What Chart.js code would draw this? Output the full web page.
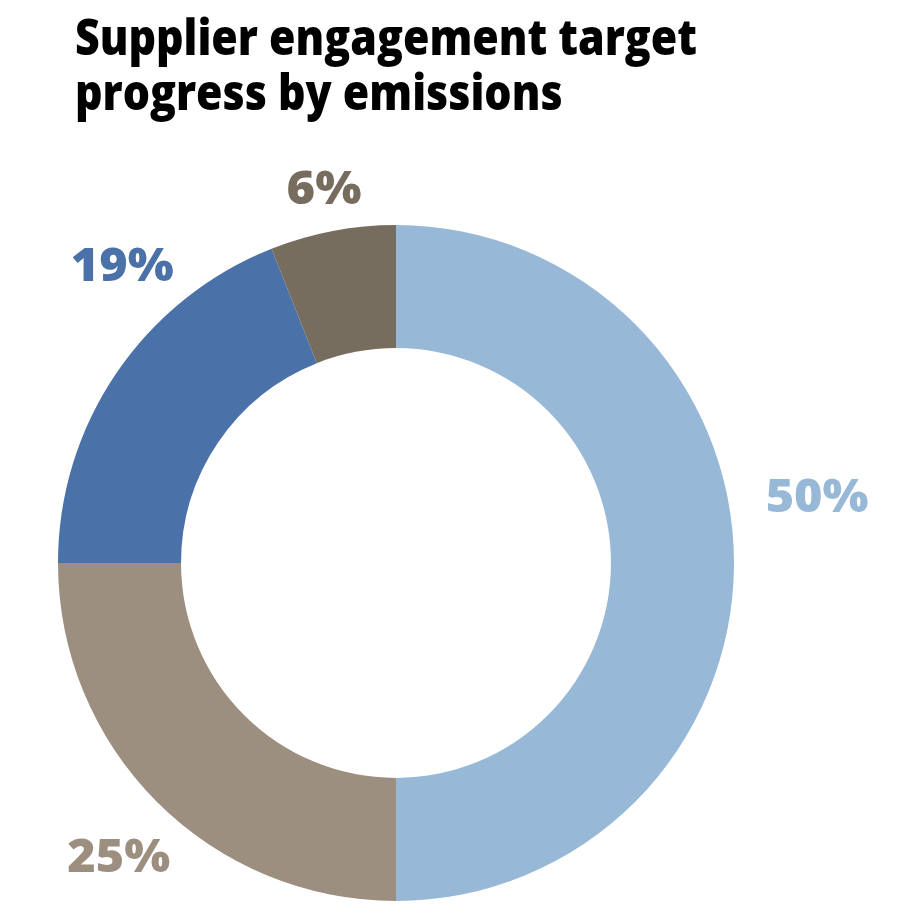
<!DOCTYPE html>
<html>
<head>
<meta charset="utf-8">
<script src="https://cdn.jsdelivr.net/npm/chart.js@4/dist/chart.umd.min.js"></script>
<style>
html,body{margin:0;padding:0;background:#fff;}
#wrap{width:912px;height:917px;position:relative;}
</style>
</head>
<body>
<div id="wrap"><canvas id="c" width="912" height="917"></canvas></div>
<script>
const titleLines = ["Supplier engagement target", "progress by emissions"];
const categories = ["Category A", "Category B", "Category C", "Category D"];
const values = [50, 25, 19, 6];
const valueLabels = ["50%", "25%", "19%", "6%"];
const colors = ["#97B8D7", "#9C8F7F", "#4A71A8", "#776D5F"];

// label placement relative to the doughnut centre, as fractions of the outer radius
const labelOffsets = [[1.246, -0.195], [-0.82, 0.87], [-0.81, -0.88], [-0.213, -1.107]];

const FONT = "'Open Sans', 'DejaVu Sans', sans-serif";

const titlePlugin = {
  id: 'customTitle',
  afterDraw(chart) {
    const ctx = chart.ctx;
    ctx.save();
    ctx.fillStyle = '#000';
    ctx.textBaseline = 'alphabetic';
    ctx.textAlign = 'left';
    ctx.font = '800 49px ' + FONT;
    const w0 = ctx.measureText(titleLines[0]).width;
    const sx = 622 / w0;
    const baselines = [55, 110];
    titleLines.forEach((t, i) => {
      ctx.save();
      ctx.translate(75, baselines[i]);
      ctx.scale(sx, 1);
      ctx.fillText(t, 0, 0);
      ctx.restore();
    });
    ctx.restore();
  }
};

const labelPlugin = {
  id: 'valueLabels',
  afterDatasetsDraw(chart) {
    const meta = chart.getDatasetMeta(0);
    const ctx = chart.ctx;
    ctx.save();
    ctx.font = '800 46px ' + FONT;
    ctx.textAlign = 'center';
    ctx.textBaseline = 'middle';
    meta.data.forEach((arc, i) => {
      const r = arc.outerRadius;
      const x = arc.x + labelOffsets[i][0] * r;
      const y = arc.y + labelOffsets[i][1] * r;
      ctx.fillStyle = colors[i];
      const w = ctx.measureText(valueLabels[i]).width;
      const target = valueLabels[i].length === 3 ? 103 : 75;
      ctx.save();
      ctx.translate(x, y);
      ctx.scale(target / w, 1);
      ctx.fillText(valueLabels[i], 0, 2);
      ctx.restore();
    });
    ctx.restore();
  }
};

new Chart(document.getElementById('c'), {
  type: 'doughnut',
  data: {
    labels: categories,
    datasets: [{
      data: values,
      backgroundColor: colors,
      borderWidth: 0,
      hoverOffset: 0
    }]
  },
  options: {
    responsive: false,
    animation: false,
    cutout: '63.6%',
    rotation: 0,
    layout: { padding: { left: 58, right: 178, top: 225, bottom: 16 } },
    plugins: {
      legend: { display: false },
      title: { display: false },
      tooltip: { enabled: false }
    }
  },
  plugins: [titlePlugin, labelPlugin]
});
</script>
</body>
</html>
